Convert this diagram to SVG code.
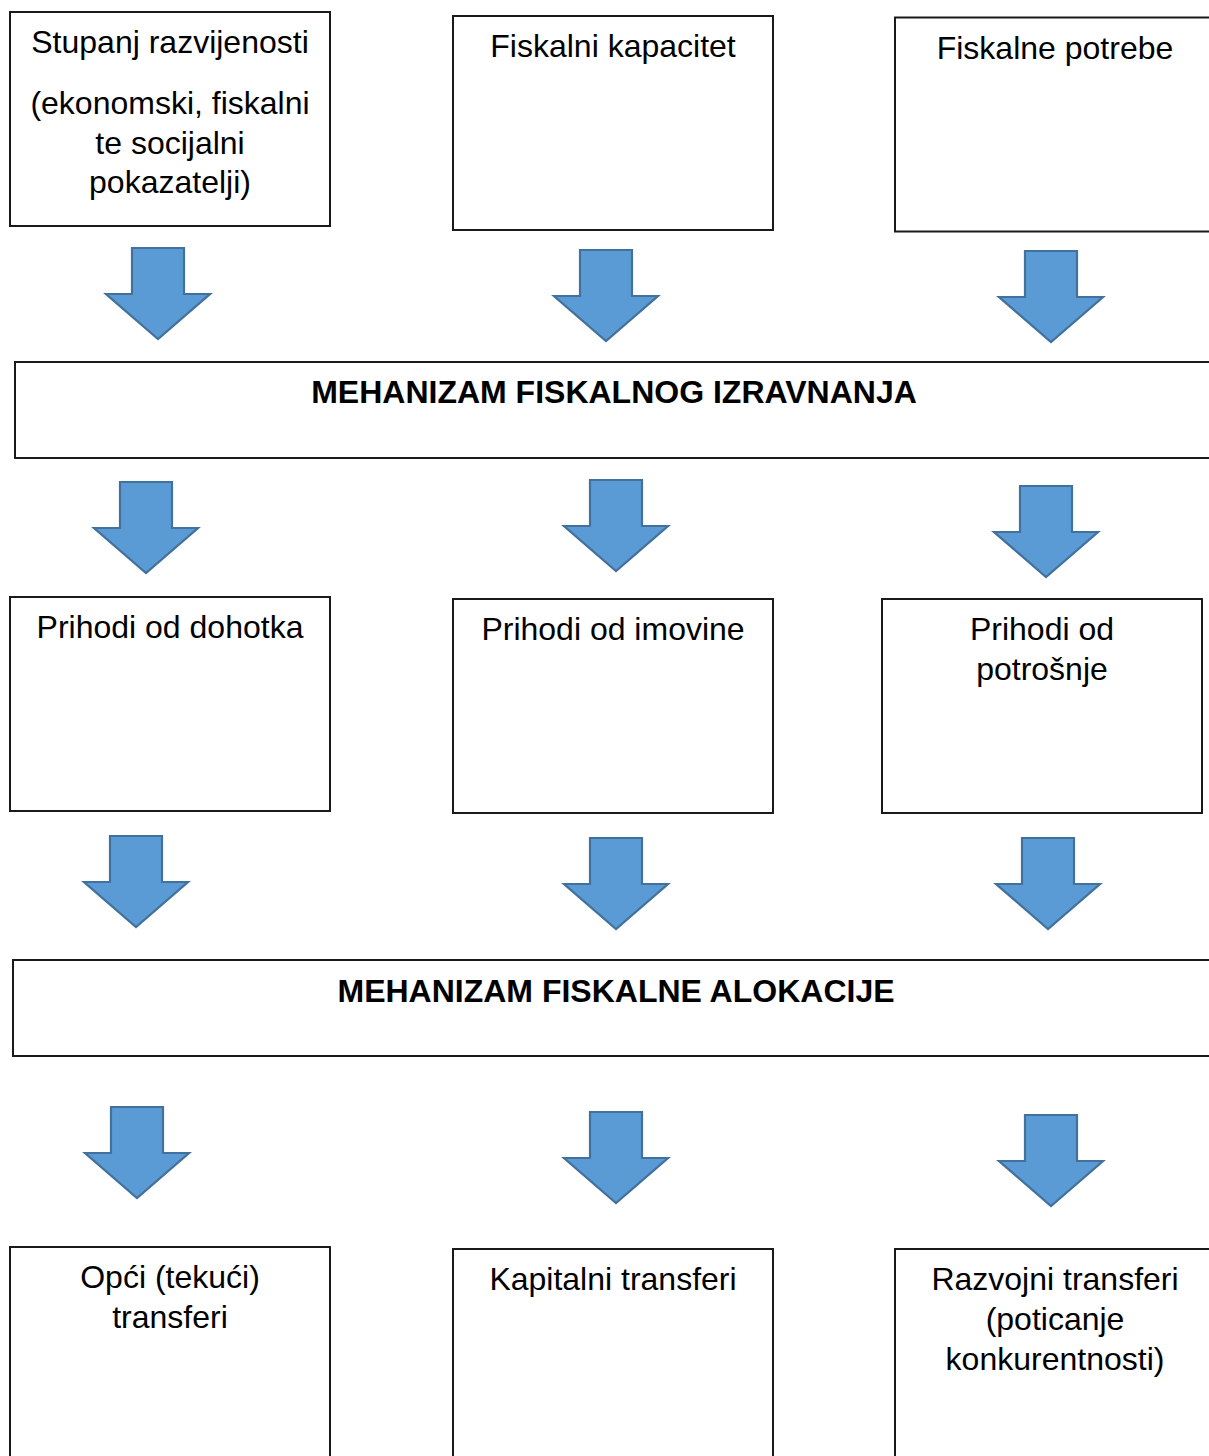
<svg xmlns="http://www.w3.org/2000/svg" xmlns:xlink="http://www.w3.org/1999/xlink" width="1209" height="1456" viewBox="0 0 1209 1456">
<style>
.box{fill:#fff;stroke:#1a1a1a;stroke-width:2}
.t{font-family:"Liberation Sans",Arial,sans-serif;font-size:32px;fill:#000;text-anchor:middle}
.b{font-weight:bold}
.arr{fill:#5B9BD5;stroke:#41719C;stroke-width:2.2;stroke-linejoin:miter}
</style>
<defs>
<path id="arrow" class="arr" d="M -26,0 H 26 V 46 H 52 L 0,91 L -52,46 H -26 Z"/>
</defs>
<rect width="1209" height="1456" fill="#fff"/>
<g id="connectors">
<use xlink:href="#arrow" href="#arrow" x="158" y="248"/>
<use xlink:href="#arrow" href="#arrow" x="606" y="250"/>
<use xlink:href="#arrow" href="#arrow" x="1051" y="251"/>
<use xlink:href="#arrow" href="#arrow" x="146" y="482"/>
<use xlink:href="#arrow" href="#arrow" x="616" y="480"/>
<use xlink:href="#arrow" href="#arrow" x="1046" y="486"/>
<use xlink:href="#arrow" href="#arrow" x="136" y="836"/>
<use xlink:href="#arrow" href="#arrow" x="616" y="838"/>
<use xlink:href="#arrow" href="#arrow" x="1048" y="838"/>
<use xlink:href="#arrow" href="#arrow" x="137" y="1107"/>
<use xlink:href="#arrow" href="#arrow" x="616" y="1112"/>
<use xlink:href="#arrow" href="#arrow" x="1051" y="1115"/>
</g>
<g id="stupanj">
<rect class="box" x="10" y="12" width="320" height="214"/>
<text class="t" x="170" y="53">Stupanj razvijenosti</text>
<text class="t" x="170" y="114">(ekonomski, fiskalni</text>
<text class="t" x="170" y="154">te socijalni</text>
<text class="t" x="170" y="193">pokazatelji)</text>
</g>
<g id="kapacitet">
<rect class="box" x="453" y="16" width="320" height="214"/>
<text class="t" x="613" y="57">Fiskalni kapacitet</text>
</g>
<g id="potrebe">
<rect class="box" x="895" y="17.5" width="320" height="214"/>
<text class="t" x="1055" y="59">Fiskalne potrebe</text>
</g>
<g id="izravnanje">
<rect class="box" x="15" y="362" width="1198" height="96"/>
<text class="t b" x="614" y="403">MEHANIZAM FISKALNOG IZRAVNANJA</text>
</g>
<g id="dohodak">
<rect class="box" x="10" y="597" width="320" height="214"/>
<text class="t" x="170" y="638">Prihodi od dohotka</text>
</g>
<g id="imovina">
<rect class="box" x="453" y="599" width="320" height="214"/>
<text class="t" x="613" y="640">Prihodi od imovine</text>
</g>
<g id="potrosnja">
<rect class="box" x="882" y="599" width="320" height="214"/>
<text class="t" x="1042" y="639.5">Prihodi od</text>
<text class="t" x="1042" y="679.5">potrošnje</text>
</g>
<g id="alokacija">
<rect class="box" x="13" y="960" width="1206" height="96"/>
<text class="t b" x="616" y="1001.5">MEHANIZAM FISKALNE ALOKACIJE</text>
</g>
<g id="opci">
<rect class="box" x="10" y="1247" width="320" height="214"/>
<text class="t" x="170" y="1288">Opći (tekući)</text>
<text class="t" x="170" y="1328">transferi</text>
</g>
<g id="kapitalni">
<rect class="box" x="453" y="1249" width="320" height="214"/>
<text class="t" x="613" y="1290">Kapitalni transferi</text>
</g>
<g id="razvojni">
<rect class="box" x="895" y="1249" width="320" height="214"/>
<text class="t" x="1055" y="1290">Razvojni transferi</text>
<text class="t" x="1055" y="1330">(poticanje</text>
<text class="t" x="1055" y="1370">konkurentnosti)</text>
</g>
</svg>
